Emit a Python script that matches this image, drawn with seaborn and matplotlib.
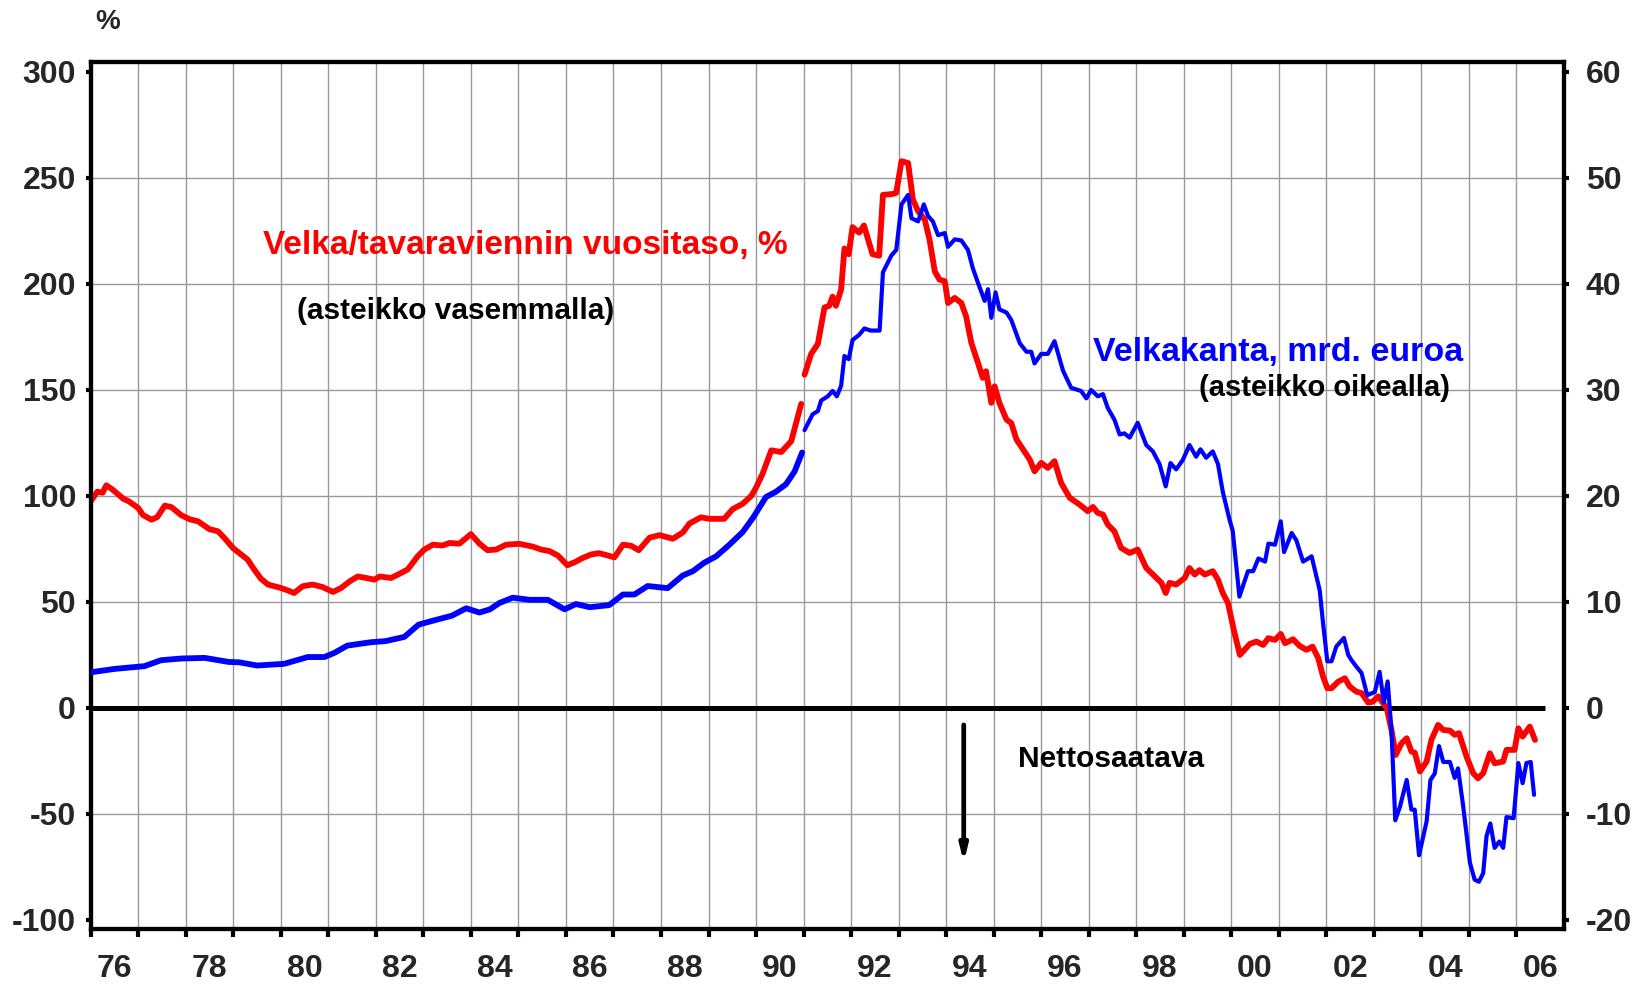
import matplotlib
matplotlib.use("Agg")
import matplotlib.pyplot as plt
import seaborn as sns

# Velka / tavaraviennin vuositaso, % (vasen asteikko)
red_years_a = [1976.0, 1976.14, 1976.25, 1976.33, 1976.46, 1976.69, 1976.8, 1977.0, 1977.1, 1977.28,
               1977.4, 1977.56, 1977.7, 1977.9, 1978.08, 1978.26, 1978.5, 1978.68, 1978.82, 1979.0,
               1979.17, 1979.3, 1979.44, 1979.58, 1979.73, 1980.0, 1980.14, 1980.28, 1980.46, 1980.67,
               1980.88, 1981.1, 1981.27, 1981.45, 1981.62, 1981.8, 1981.97, 1982.08, 1982.32, 1982.5,
               1982.67, 1982.88, 1983.02, 1983.2, 1983.4, 1983.55, 1983.76, 1984.0, 1984.18, 1984.35,
               1984.53, 1984.74, 1985.02, 1985.3, 1985.48, 1985.65, 1985.83, 1986.03, 1986.2, 1986.35,
               1986.53, 1986.7, 1986.88, 1987.02, 1987.2, 1987.37, 1987.53, 1987.76, 1987.97, 1988.25,
               1988.46, 1988.6, 1988.84, 1989.02, 1989.33, 1989.51, 1989.72, 1989.9, 1990.0, 1990.14,
               1990.32, 1990.53, 1990.74, 1990.95]
red_vals_a = [97.5, 102, 101.5, 105, 103, 98.6, 97.5, 94.3, 91, 88.8,
              90, 95.4, 94.7, 91, 89, 88, 84.3, 83.3, 80, 75.3,
              72.3, 70, 65.3, 61, 58.2, 56.6, 55.5, 54.2, 57.4, 58.2,
              57, 54.7, 56.6, 59.7, 62, 61.3, 60.5, 62, 61.3, 63.3,
              65.3, 71.5, 74.7, 77, 76.6, 77.8, 77.5, 82, 77.5, 74.4,
              74.7, 77, 77.4, 76.1, 74.7, 74, 71.9, 67.3, 68.9, 70.7,
              72.4, 73, 71.9, 71, 77, 76.5, 74.4, 80.3, 81.5, 79.8,
              82.8, 87, 89.9, 89.2, 89.2, 93.8, 96.3, 100, 103.9, 110.6,
              121.5, 120.7, 125.8, 143.4]

red_years_b = [1991.02, 1991.16, 1991.3, 1991.44, 1991.54, 1991.61, 1991.68, 1991.79, 1991.86, 1991.95,
               1992.03, 1992.17, 1992.27, 1992.45, 1992.59, 1992.67, 1992.87, 1992.95, 1993.06, 1993.2,
               1993.3, 1993.41, 1993.55, 1993.65, 1993.76, 1993.86, 1993.97, 1994.04, 1994.18, 1994.32,
               1994.42, 1994.53, 1994.67, 1994.77, 1994.84, 1994.95, 1995.02, 1995.12, 1995.27, 1995.37,
               1995.48, 1995.62, 1995.76, 1995.86, 1996.0, 1996.14, 1996.28, 1996.42, 1996.6, 1996.81,
               1996.98, 1997.09, 1997.19, 1997.3, 1997.4, 1997.54, 1997.68, 1997.86, 1998.03, 1998.21,
               1998.39, 1998.53, 1998.62, 1998.7, 1998.84, 1999.02, 1999.12, 1999.23, 1999.33, 1999.44,
               1999.61, 1999.72, 1999.82, 1999.93, 2000.05, 2000.18, 2000.39, 2000.53, 2000.67, 2000.78,
               2000.92, 2001.04, 2001.13, 2001.3, 2001.44, 2001.58, 2001.71, 2001.83, 2001.93, 2002.02,
               2002.11, 2002.25, 2002.39, 2002.49, 2002.63, 2002.74, 2002.88, 2002.98, 2003.09, 2003.2,
               2003.27, 2003.37, 2003.46, 2003.58, 2003.69, 2003.79, 2003.86, 2003.97, 2004.11, 2004.21,
               2004.35, 2004.46, 2004.6, 2004.7, 2004.79, 2004.95, 2005.09, 2005.19, 2005.3, 2005.44,
               2005.54, 2005.72, 2005.79, 2005.96, 2006.04, 2006.13, 2006.28, 2006.39]
red_vals_b = [157.2, 167, 171.7, 188.9, 189.7, 194, 189.7, 197.3, 216.7, 214,
              226.8, 224.2, 227.6, 214, 213.3, 242, 242.4, 243, 257.9, 257,
              239.8, 234.3, 230.3, 220.9, 206, 202, 201.3, 191, 193.4, 191,
              184.7, 172.2, 162.7, 155.7, 158.8, 143.9, 151.7, 143.9, 136, 134.4,
              126.6, 121.9, 117.1, 111.6, 115.6, 113.2, 116.4, 106.1, 99.1, 95.9,
              92.8, 94.8, 92, 91.2, 86.5, 83.3, 75.5, 73.1, 74.7, 66,
              62.1, 59, 54.2, 59, 58.2, 61.3, 66, 62.9, 65, 62.9,
              64.5, 60.5, 54.2, 49.5, 37, 25, 30.2, 31.3, 29.7, 32.9,
              32.1, 34.9, 30.5, 32.4, 29.2, 27.4, 28.9, 23.4, 14.8, 9.3,
              9.3, 12.4, 14, 10.1, 7.7, 7.0, 2.5, 3, 5.5, 2,
              0, -10.4, -22.2, -16.7, -14.3, -20.6, -21.1, -30, -25.3, -15.1,
              -8, -10.4, -10.7, -12.7, -11.9, -23, -30.8, -33.2, -30.8, -21.4,
              -26.1, -25.3, -19.8, -19.8, -9.6, -13.5, -8.8, -15.1]

# Velkakanta, mrd. euroa (oikea asteikko)
blue_years_a = [1976.0, 1976.5, 1977.13, 1977.48, 1977.9, 1978.4, 1978.9, 1979.13, 1979.5, 1980.07,
                1980.57, 1980.92, 1981.13, 1981.4, 1981.9, 1982.2, 1982.6, 1982.9, 1983.26, 1983.6,
                1983.9, 1984.18, 1984.4, 1984.6, 1984.88, 1985.23, 1985.62, 1985.97, 1986.21, 1986.5,
                1986.91, 1987.2, 1987.44, 1987.72, 1988.14, 1988.46, 1988.67, 1988.91, 1989.16, 1989.44,
                1989.72, 1989.93, 1990.21, 1990.42, 1990.63, 1990.81, 1990.97]
blue_vals_a = [3.36, 3.68, 3.94, 4.5, 4.66, 4.72, 4.34, 4.3, 4.0, 4.16,
               4.8, 4.8, 5.2, 5.88, 6.2, 6.3, 6.7, 7.86, 8.3, 8.7,
               9.4, 9.0, 9.3, 9.9, 10.4, 10.2, 10.2, 9.3, 9.8, 9.5,
               9.7, 10.7, 10.7, 11.5, 11.3, 12.5, 12.9, 13.7, 14.3, 15.4,
               16.6, 17.9, 19.9, 20.4, 21.1, 22.3, 24.1]

blue_years_b = [1991.02, 1991.19, 1991.3, 1991.37, 1991.51, 1991.61, 1991.7, 1991.79, 1991.86, 1991.95,
                1992.03, 1992.17, 1992.28, 1992.41, 1992.6, 1992.67, 1992.85, 1992.95, 1993.06, 1993.2,
                1993.27, 1993.41, 1993.53, 1993.62, 1993.72, 1993.83, 1993.97, 1994.04, 1994.18, 1994.32,
                1994.46, 1994.56, 1994.67, 1994.81, 1994.88, 1994.95, 1995.04, 1995.12, 1995.27, 1995.37,
                1995.55, 1995.69, 1995.79, 1995.86, 1996.0, 1996.14, 1996.28, 1996.46, 1996.63, 1996.84,
                1996.95, 1997.05, 1997.19, 1997.3, 1997.4, 1997.54, 1997.65, 1997.75, 1997.86, 1998.03,
                1998.21, 1998.35, 1998.49, 1998.62, 1998.72, 1998.84, 1998.98, 1999.12, 1999.26, 1999.35,
                1999.47, 1999.61, 1999.72, 1999.82, 1999.96, 2000.03, 2000.17, 2000.35, 2000.46, 2000.57,
                2000.71, 2000.78, 2000.92, 2001.04, 2001.11, 2001.27, 2001.37, 2001.51, 2001.69, 2001.86,
                2001.93, 2002.02, 2002.11, 2002.21, 2002.37, 2002.46, 2002.53, 2002.63, 2002.74, 2002.86,
                2003.02, 2003.12, 2003.21, 2003.29, 2003.37, 2003.45, 2003.55, 2003.69, 2003.79, 2003.86,
                2003.95, 2004.11, 2004.19, 2004.28, 2004.37, 2004.46, 2004.6, 2004.7, 2004.77, 2004.88,
                2005.02, 2005.12, 2005.21, 2005.3, 2005.37, 2005.45, 2005.54, 2005.64, 2005.72, 2005.79,
                2005.94, 2006.04, 2006.13, 2006.21, 2006.3, 2006.37]
blue_vals_b = [26.2, 27.7, 28.0, 29.0, 29.4, 29.9, 29.4, 30.4, 33.2, 32.9,
               34.7, 35.2, 35.8, 35.6, 35.6, 41.1, 42.7, 43.2, 47.5, 48.4,
               46.2, 45.9, 47.5, 46.4, 45.9, 44.6, 44.8, 43.5, 44.2, 44.1,
               43.2, 41.5, 40.1, 38.4, 39.5, 36.8, 39.2, 37.6, 37.3, 36.6,
               34.4, 33.6, 33.6, 32.5, 33.4, 33.4, 34.6, 31.8, 30.2, 29.9,
               29.2, 30.0, 29.4, 29.6, 28.3, 27.2, 25.8, 25.9, 25.5, 26.9,
               24.8, 24.2, 23.0, 20.9, 23.1, 22.5, 23.4, 24.8, 23.7, 24.4,
               23.6, 24.2, 23.0, 20.4, 17.8, 16.7, 10.5, 12.9, 12.9, 14.1,
               13.8, 15.5, 15.4, 17.6, 14.7, 16.5, 15.8, 13.8, 14.3, 11.1,
               8.0, 4.4, 4.4, 5.8, 6.6, 5.0, 4.5, 3.9, 3.3, 1.2,
               1.5, 3.4, 0.5, 2.5, -2.1, -10.6, -9.3, -6.8, -9.6, -9.6,
               -13.9, -10.7, -6.8, -6.2, -3.6, -5.1, -5.1, -6.6, -5.7, -9.3,
               -14.6, -16.2, -16.4, -15.6, -12.1, -10.9, -13.2, -12.6, -13.2, -10.3,
               -10.4, -5.2, -7.1, -5.2, -5.1, -8.2]

left_ticks = [-100, -50, 0, 50, 100, 150, 200, 250, 300]
right_ticks = [-20, -10, 0, 10, 20, 30, 40, 50, 60]
grid_levels = [-50, 50, 100, 150, 200, 250]
year_ticks = list(range(1976, 2007))
label_years = list(range(1976, 2007, 2))
year_labels = ["76", "78", "80", "82", "84", "86", "88", "90", "92", "94", "96", "98", "00", "02", "04", "06"]

sns.set_style("white")
plt.rcParams['font.family'] = ['Liberation Sans', 'DejaVu Sans']
plt.rcParams['font.weight'] = 'bold'

fig = plt.figure(figsize=(16.37, 9.85), dpi=100)
ax = fig.add_axes([0.0554, 0.0566, 0.9, 0.8805])
ax.set_xlim(1976, 2007)
ax.set_ylim(-104.4, 304.7)

# grid
for yr in year_ticks[1:]:
    ax.axvline(yr, color='#999999', lw=1.0, zorder=0)
for g in grid_levels:
    ax.axhline(g, color='#999999', lw=1.0, zorder=0)
ax.hlines(0, 1976, 2006.6, color='black', lw=3.6, zorder=1)

sns.lineplot(x=red_years_a, y=red_vals_a, ax=ax, color='#ff0000', lw=4.2, zorder=3)
sns.lineplot(x=red_years_b, y=red_vals_b, ax=ax, color='#ff0000', lw=4.2, zorder=3)

ax2 = ax.twinx()
ax2.set_ylim(-104.4 / 5, 304.7 / 5)
sns.lineplot(x=blue_years_a, y=blue_vals_a, ax=ax2, color='#0000ff', lw=4.2, zorder=3)
sns.lineplot(x=blue_years_b, y=blue_vals_b, ax=ax2, color='#0000ff', lw=3.0, zorder=3)

ax.set_yticks(left_ticks)
ax.set_yticklabels([str(t) for t in left_ticks], fontsize=23, fontweight='bold')
ax2.set_yticks(right_ticks)
ax2.set_yticklabels([str(t) for t in right_ticks], fontsize=23, fontweight='bold')

ax.set_xticks(year_ticks)
ax.set_xticklabels([])
ax.set_xticks([y + 0.5 for y in label_years], minor=True)
ax.set_xticklabels(year_labels, minor=True, fontsize=23, fontweight='bold')
ax.tick_params(axis='x', which='major', direction='out', length=6, width=3, color='black', bottom=True)
ax.tick_params(axis='x', which='minor', length=0, pad=18)
ax.tick_params(axis='y', direction='out', length=3.5, width=3, color='black', left=True, pad=7)
ax2.tick_params(axis='y', direction='out', length=3.5, width=3, color='black', right=True, pad=12)
ax.set_xlabel('')
ax.set_ylabel('')
ax2.set_ylabel('')

for a in (ax, ax2):
    for s in a.spines.values():
        s.set_color('black')
        s.set_linewidth(3.0)

ax.text(1979.62, 218, 'Velka/tavaraviennin vuositaso, %', color='#ff0000', fontsize=24,
        fontweight='bold', ha='left', va='center')
ax.text(1980.34, 187.3, '(asteikko vasemmalla)', color='black', fontsize=21.5,
        fontweight='bold', ha='left', va='center')
ax.text(1997.1, 167.5, 'Velkakanta, mrd. euroa', color='#0000ff', fontsize=24.5,
        fontweight='bold', ha='left', va='center')
ax.text(1999.33, 151, '(asteikko oikealla)', color='black', fontsize=21,
        fontweight='bold', ha='left', va='center')
ax.text(1995.52, -23.9, 'Nettosaatava', color='black', fontsize=21.5,
        fontweight='bold', ha='left', va='center')
ax.annotate('', xy=(1994.37, -73), xytext=(1994.37, -8),
            arrowprops=dict(arrowstyle='-|>,head_length=0.9,head_width=0.22', color='black', lw=3.4,
                            shrinkA=0, shrinkB=0))
fig.text(108 / 1637, 1 - 22 / 985, '%', fontsize=20, fontweight='bold', ha='center', va='center')

fig.savefig('out.png', dpi=100)
